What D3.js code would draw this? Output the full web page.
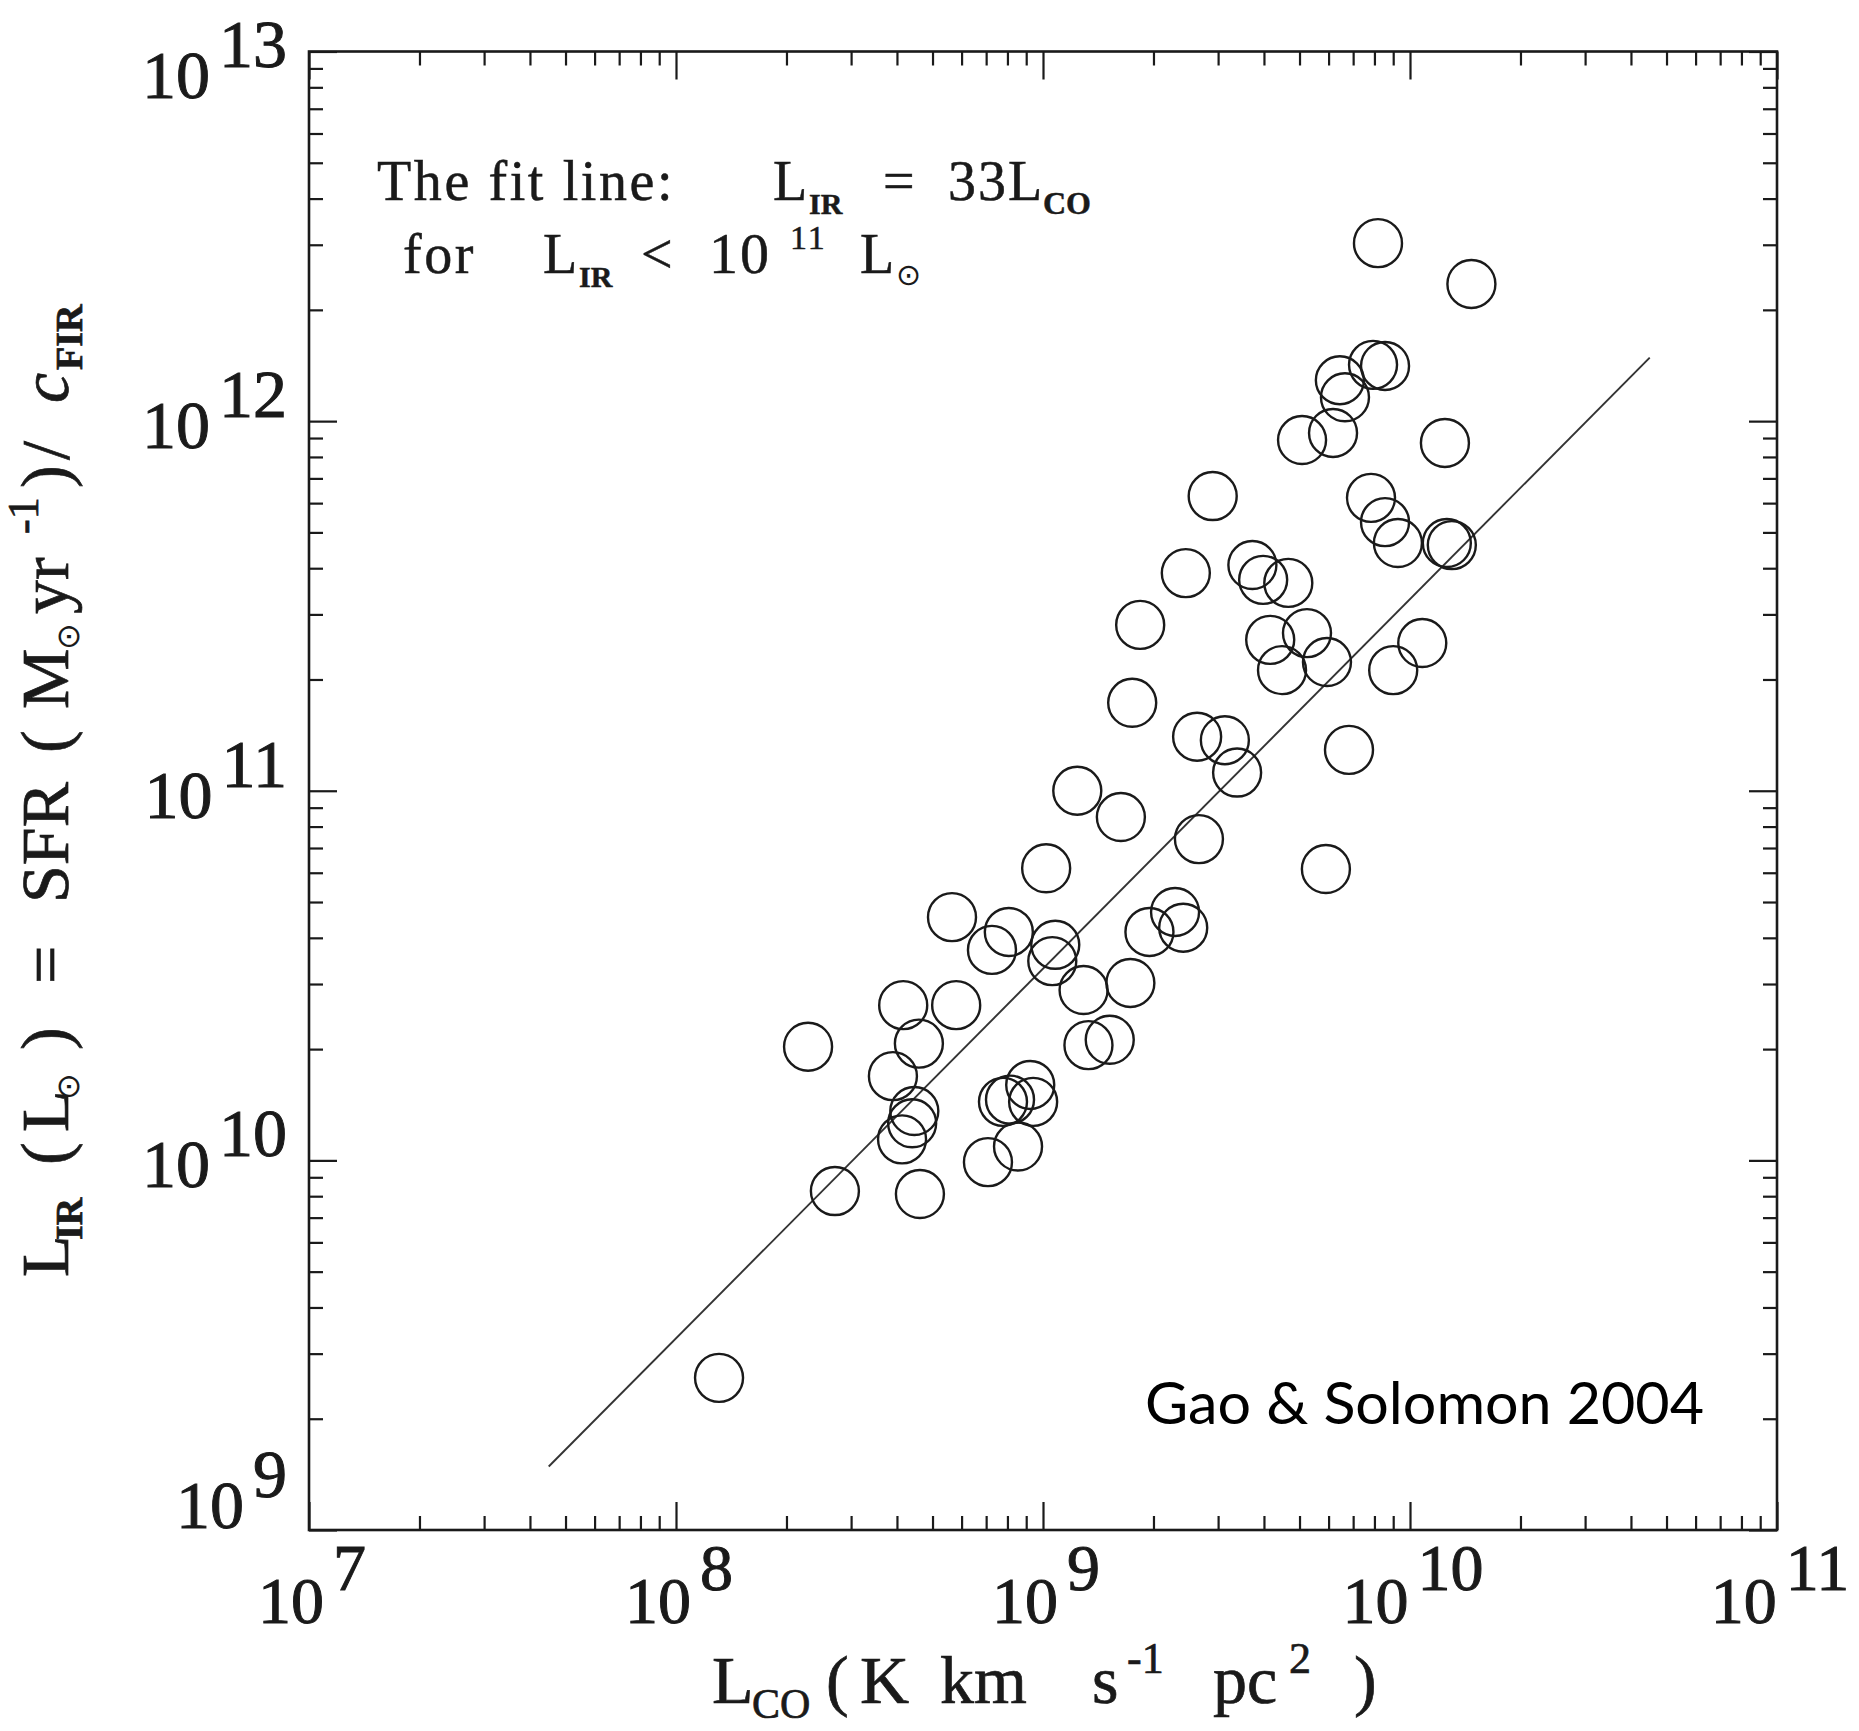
<!DOCTYPE html>
<html><head><meta charset="utf-8">
<script src="https://cdn.jsdelivr.net/npm/d3@7"></script>
<style>body{margin:0;background:#fff}</style>
</head><body>
<svg id="chart" width="1859" height="1731" xmlns="http://www.w3.org/2000/svg"></svg>
<script>
// ---- data ----
const lco = [8.18e9, 1.47e10, 6.44e9, 6.65e9, 7.93e9, 8.55e9, 5.08e9, 6.17e9, 1.245e10, 2.90e9,
             7.83e9, 8.55e9, 9.27e9, 1.26e10, 1.30e10, 2.45e9, 3.72e9, 3.98e9, 4.66e9, 1.84e9,
             4.16e9, 5.24e9, 4.48e9, 5.94e9, 1.08e10, 9.00e9, 1.75e9, 2.63e9, 3.13e9, 3.38e9,
             6.82e9, 1.63e9, 2.66e9, 5.90e9, 1.95e9, 2.29e9, 2.41e9, 1.73e9, 1.24e9, 1.02e9,
             5.65e8, 8.07e8, 7.26e8, 1.08e9, 1.06e9, 1.29e9, 4.16e8, 5.80e8, 2.29e8, 4.59e8,
             3.90e8, 4.46e8, 4.40e8, 4.13e8, 7.78e8, 8.13e8, 9.23e8, 9.40e8, 8.55e8, 7.08e8,
             1.33e9, 1.52e9, 2.71e8, 4.62e8, 1.31e8];
const lir = [3.03e12, 2.35e12, 1.29e12, 1.16e12, 1.42e12, 1.41e12, 8.89e11, 9.29e11, 8.73e11, 6.27e11,
             6.20e11, 5.33e11, 4.68e11, 4.68e11, 4.62e11, 3.88e11, 4.08e11, 3.72e11, 3.65e11, 2.81e11,
             2.56e11, 2.67e11, 2.12e11, 2.23e11, 2.51e11, 2.12e11, 1.73e11, 1.40e11, 1.37e11, 1.12e11,
             1.29e11, 8.49e10, 7.40e10, 6.14e10, 4.15e10, 4.70e10, 4.26e10, 3.02e10, 1.00e11, 6.17e10,
             4.55e10, 4.15e10, 3.71e10, 3.83e10, 3.46e10, 2.89e10, 2.63e10, 2.63e10, 2.03e10, 2.07e10,
             1.69e10, 1.36e10, 1.26e10, 1.14e10, 1.44e10, 1.46e10, 1.60e10, 1.44e10, 1.09e10, 9.89e9,
             2.05e10, 2.12e10, 8.26e9, 8.11e9, 2.58e9];
const fitLco = [4.5e7, 4.5e10];
const fitLir = [1.485e9, 1.485e12];
const xDecades = [1e7, 1e8, 1e9, 1e10, 1e11];
const xExponents = ["7", "8", "9", "10", "11"];
const yDecades = [1e9, 1e10, 1e11, 1e12, 1e13];
const yExponents = ["9", "10", "11", "12", "13"];

// ---- layout ----
const M = {left: 309, right: 1777, top: 51.5, bottom: 1530};
const svg = d3.select("#chart");
const x = d3.scaleLog().domain([1e7, 1e11]).range([M.left, M.right]);
const y = d3.scaleLog().domain([1e9, 1e13]).range([M.bottom, M.top]);
const ink = "#1a1a1a";
const serif = "'Liberation Serif', 'Times New Roman', serif";
const symFont = "'DejaVu Sans', sans-serif";

function minors(dom) {
  const out = [];
  for (let e = Math.round(Math.log10(dom[0])); e < Math.round(Math.log10(dom[1])); e++)
    for (let k = 2; k <= 9; k++) out.push(k * Math.pow(10, e));
  return out;
}

function drawTicks(gen, tr, values, size) {
  const g = svg.append("g").attr("transform", tr)
    .call(gen.tickValues(values).tickSize(size).tickSizeOuter(0).tickFormat(""));
  g.select(".domain").remove();
  g.selectAll("line").attr("stroke", ink).attr("stroke-width", 2.2);
}
const xMin = minors(x.domain()), yMin = minors(y.domain());
drawTicks(d3.axisBottom(x), `translate(0,${M.bottom})`, xMin, -14);
drawTicks(d3.axisTop(x), `translate(0,${M.top})`, xMin, -14);
drawTicks(d3.axisBottom(x), `translate(0,${M.bottom})`, xDecades, -28);
drawTicks(d3.axisTop(x), `translate(0,${M.top})`, xDecades, -28);
drawTicks(d3.axisLeft(y), `translate(${M.left},0)`, yMin, -14);
drawTicks(d3.axisRight(y), `translate(${M.right},0)`, yMin, -14);
drawTicks(d3.axisLeft(y), `translate(${M.left},0)`, yDecades, -28);
drawTicks(d3.axisRight(y), `translate(${M.right},0)`, yDecades, -28);

svg.append("rect").attr("x", M.left).attr("y", M.top)
  .attr("width", M.right - M.left).attr("height", M.bottom - M.top)
  .attr("fill", "none").attr("stroke", ink).attr("stroke-width", 2.6);

// fit line
svg.append("path")
  .datum(d3.range(fitLco.length))
  .attr("d", d3.line().x(i => x(fitLco[i])).y(i => y(fitLir[i])))
  .attr("fill", "none").attr("stroke", "#333").attr("stroke-width", 1.9);

// circles
svg.append("g").selectAll("circle").data(d3.range(lco.length)).join("circle")
  .attr("cx", i => x(lco[i])).attr("cy", i => y(lir[i])).attr("r", 24)
  .attr("fill", "none").attr("stroke", ink).attr("stroke-width", 2.4);

// tick labels
xDecades.forEach((v, i) => {
  const t = svg.append("text").attr("x", x(v) + 3).attr("y", 1623)
    .attr("text-anchor", "middle").attr("font-family", serif).attr("font-size", 66)
    .attr("fill", ink).attr("stroke", ink).attr("stroke-width", 1);
  t.append("tspan").text("10");
  t.append("tspan").attr("dx", 9).attr("dy", -33).text(xExponents[i]);
});
yDecades.forEach((v, i) => {
  const base = Math.min(Math.max(y(v) + 27, M.top + 46), M.bottom - 2);
  const t = svg.append("text").attr("x", 287).attr("y", base)
    .attr("text-anchor", "end").attr("font-family", serif).attr("font-size", 68)
    .attr("fill", ink).attr("stroke", ink).attr("stroke-width", 1);
  t.append("tspan").text("10");
  t.append("tspan").attr("dx", 9).attr("dy", -31).text(yExponents[i]);
});

// rich text with explicitly placed pieces
function pieces(parent, parts) {
  parts.forEach(p => {
    const ts = parent.append("tspan").attr("x", p.x).attr("y", p.y).text(p.t);
    if (p.fs) ts.attr("font-size", p.fs);
    if (p.fw) ts.attr("font-weight", p.fw);
    if (p.fst) ts.attr("font-style", p.fst);
    if (p.ff) ts.attr("font-family", p.ff).attr("stroke-width", 0);
  });
}

// x title
const xb = 1703;
const xt = svg.append("text").attr("font-family", serif).attr("font-size", 68)
  .attr("fill", ink).attr("stroke", ink).attr("stroke-width", 0.7);
pieces(xt, [
  {t: "L", x: 712, y: xb},
  {t: "CO", x: 752, y: xb + 15, fs: 42},
  {t: "(", x: 826, y: xb},
  {t: "K", x: 860, y: xb},
  {t: "km", x: 940, y: xb},
  {t: "s", x: 1092, y: xb},
  {t: "-1", x: 1127, y: xb - 30, fs: 44},
  {t: "pc", x: 1213, y: xb},
  {t: "2", x: 1289, y: xb - 30, fs: 44},
  {t: ")", x: 1354, y: xb}
]);

// y title (rotated; x = -screenY of piece start, y = offset from baseline)
const yt = svg.append("text").attr("transform", "translate(68,0) rotate(-90)")
  .attr("font-family", serif).attr("font-size", 68)
  .attr("fill", ink).attr("stroke", ink).attr("stroke-width", 0.7);
pieces(yt, [
  {t: "L", x: -1277, y: 0},
  {t: "IR", x: -1240, y: 14, fs: 38, fw: "bold"},
  {t: "(", x: -1165, y: 0},
  {t: "L", x: -1132, y: 0},
  {t: "\u2299", x: -1100, y: 11, fs: 32, ff: symFont},
  {t: ")", x: -1050, y: 0},
  {t: "=", x: -984, y: 0},
  {t: "SFR", x: -903, y: 0},
  {t: "(", x: -753, y: 0},
  {t: "M", x: -709, y: 0},
  {t: "\u2299", x: -650, y: 11, fs: 32, ff: symFont},
  {t: "yr", x: -614, y: 0},
  {t: "-1", x: -534, y: -30, fs: 44},
  {t: ")", x: -488, y: 0},
  {t: "/", x: -460, y: 0},
  {t: "c", x: -403, y: 0, fst: "italic"},
  {t: "FIR", x: -370, y: 14, fs: 38, fw: "bold"}
]);

// annotation
const ann = svg.append("g").attr("font-family", serif).attr("fill", ink)
  .attr("stroke", ink).attr("stroke-width", 0.5);
function annText(xp, yp, fs, str, extra) {
  const t = ann.append("text").attr("x", xp).attr("y", yp).attr("font-size", fs).text(str);
  if (extra) extra(t);
  return t;
}
annText(377, 200, 56, "The fit line:", t => t.attr("letter-spacing", 2.6));
annText(773, 200, 56, "L");
annText(809, 214, 30, "IR", t => t.attr("font-weight", "bold"));
annText(883, 200, 56, "=");
annText(948, 200, 56, "33L", t => t.attr("letter-spacing", 2));
annText(1043, 214, 32, "CO", t => t.attr("font-weight", "bold"));
annText(403, 273, 56, "for", t => t.attr("letter-spacing", 2.6));
annText(543, 273, 56, "L");
annText(579, 287, 30, "IR", t => t.attr("font-weight", "bold"));
annText(641, 273, 56, "<");
annText(709, 273, 58, "10", t => t.attr("letter-spacing", 2));
annText(790, 249, 34, "11", t => t.attr("letter-spacing", 2));
annText(860, 273, 56, "L");
annText(896, 285, 30, "\u2299", t => t.attr("font-family", symFont).attr("stroke-width", 0));

// credit
svg.append("text").attr("x", 1145).attr("y", 1424)
  .attr("font-family", "Lato, 'Open Sans', sans-serif").attr("font-size", 58)
  .attr("fill", "#000").attr("textLength", 559).attr("lengthAdjust", "spacingAndGlyphs")
  .text("Gao & Solomon 2004");
</script>
</body></html>
